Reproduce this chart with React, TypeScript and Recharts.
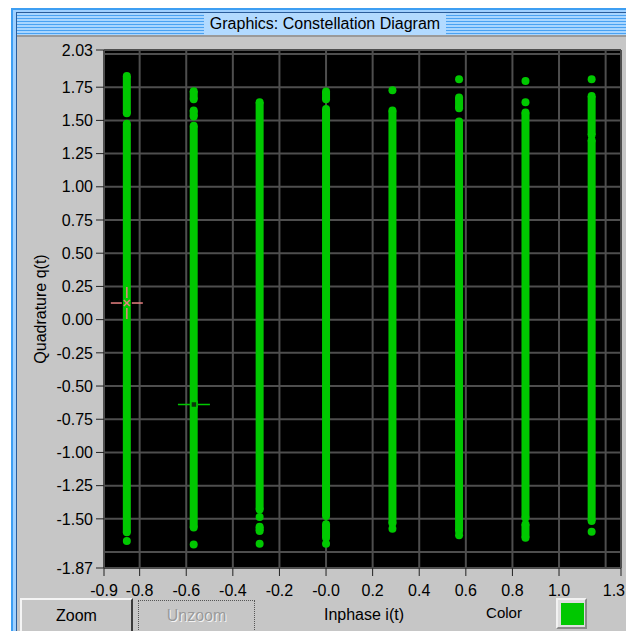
import React from "react";
import { ScatterChart, Scatter, XAxis, YAxis, CartesianGrid } from "recharts";

const GREEN = "#00c800";
const FONT = '"Liberation Sans", Arial, sans-serif';
const FACE = "#c6c6c6";

// inphase level of each of the 8 columns
const iLevels = [-0.855, -0.568, -0.285, 0.0, 0.285, 0.571, 0.856, 1.14];

// dense runs of samples in each column: [top q, bottom q]
const qRuns = [
  [[1.835, 1.554], [1.474, -1.6]],
  [[1.72, 1.66], [1.575, 1.53], [1.46, -1.566]],
  [[1.637, -1.429], [-1.559, -1.591]],
  [[1.717, 1.66], [1.586, -1.479], [-1.541, -1.642]],
  [[1.574, -1.534]],
  [[1.672, 1.591], [1.491, -1.591]],
  [[1.559, -1.491], [-1.541, -1.642]],
  [[1.684, 1.39], [1.35, -1.516]],
];

// single outlying samples in each column
const qDots = [
  [-1.667],
  [-1.694],
  [-1.486, -1.687],
  [-1.687],
  [1.727, -1.574],
  [1.81, -1.624],
  [1.797, 1.637],
  [1.81, -1.597],
];

const xTicks = [-0.953, -0.8, -0.6, -0.4, -0.2, 0, 0.2, 0.4, 0.6, 0.8, 1.0, 1.266];
const xTickLabels = ["-0.9", "-0.8", "-0.6", "-0.4", "-0.2", "-0.0", "0.2", "0.4", "0.6", "0.8", "1.0", "1.3"];
const yTicks = [-1.87, -1.5, -1.25, -1, -0.75, -0.5, -0.25, 0, 0.25, 0.5, 0.75, 1, 1.25, 1.5, 1.75, 2.03];
const yTickLabels = [
  "-1.87", "-1.50", "-1.25", "-1.00", "-0.75", "-0.50", "-0.25", "0.00",
  "0.25", "0.50", "0.75", "1.00", "1.25", "1.50", "1.75", "2.03",
];
const xGrid = [-0.953, -0.8, -0.6, -0.4, -0.2, 0, 0.2, 0.4, 0.6, 0.8, 1.0, 1.2, 1.266];
const yGrid = [-1.87, -1.75, -1.5, -1.25, -1, -0.75, -0.5, -0.25, 0, 0.25, 0.5, 0.75, 1, 1.25, 1.5, 1.75, 2.0, 2.03];

// cursor positions
const cursorRed = [{ x: -0.855, y: 0.125 }];
const cursorGreen = [{ x: -0.567, y: -0.639 }];

const dot = (p: any) => <circle cx={p.cx} cy={p.cy} r={4} fill={GREEN} />;

const redCross = (p: any) => {
  const { cx, cy } = p;
  const c = "#e88080";
  return (
    <g stroke={c} strokeWidth={1.5}>
      <line x1={cx - 16} y1={cy} x2={cx - 5} y2={cy} />
      <line x1={cx + 5} y1={cy} x2={cx + 16} y2={cy} />
      <line x1={cx} y1={cy - 16} x2={cx} y2={cy - 5} />
      <line x1={cx} y1={cy + 5} x2={cx} y2={cy + 16} />
      <line x1={cx - 3} y1={cy - 3} x2={cx + 3} y2={cy + 3} />
      <line x1={cx - 3} y1={cy + 3} x2={cx + 3} y2={cy - 3} />
    </g>
  );
};

const greenCross = (p: any) => {
  const { cx, cy } = p;
  return (
    <g stroke={GREEN} strokeWidth={1.5}>
      <line x1={cx - 16} y1={cy} x2={cx - 4} y2={cy} />
      <line x1={cx + 4} y1={cy} x2={cx + 16} y2={cy} />
      <line x1={cx} y1={cy - 16} x2={cx} y2={cy - 4} />
      <line x1={cx} y1={cy + 4} x2={cx} y2={cy + 16} />
      <rect x={cx - 3} y={cy - 3} width={6} height={6} fill="#0a3a0a" />
    </g>
  );
};

const XTick = (p: any) => {
  const { x, y, payload, index } = p;
  const last = index === xTicks.length - 1;
  return (
    <text x={last ? 625 : x} y={y} dy="0.71em" textAnchor={last ? "end" : "middle"}
      fontFamily={FONT} fontSize={16} fill="#000">
      {xTickLabels[xTicks.indexOf(payload.value)] ?? ""}
    </text>
  );
};

const AxisTitle = (props: any) => {
  const vb = props.viewBox || { x: 20, y: 50, width: 84, height: 518 };
  const x = vb.x + 20;
  const y = vb.y + vb.height / 2;
  return (
    <text x={x} y={y} transform={`rotate(-90 ${x} ${y})`} textAnchor="middle" dominantBaseline="central"
      fontFamily={FONT} fontSize={16} fill="#000">
      Quadrature q(t)
    </text>
  );
};

export default function App() {
  const runs = qRuns.flatMap((col, ci) =>
    col.map((r) => [{ x: iLevels[ci], y: r[0] }, { x: iLevels[ci], y: r[1] }])
  );
  const singles = qDots.flatMap((col, ci) => col.map((q) => ({ x: iLevels[ci], y: q })));

  const label = (txt: string, left: number, top: number, width: number, size = 16, extra: any = {}) => (
    <div style={{ position: "absolute", left, top, width, height: 18, lineHeight: "18px", textAlign: "center", fontSize: size, ...extra }}>
      {txt}
    </div>
  );

  return (
    <div style={{ position: "fixed", left: 0, top: 0, width: 626, height: 631, overflow: "hidden", background: "#fff", fontFamily: FONT }}>
      {/* window frame */}
      <div style={{ position: "absolute", left: 11, top: 8, right: -10, bottom: -10, background: "#3d9ef2" }} />
      <div style={{ position: "absolute", left: 13, top: 10, right: -10, bottom: -10, background: "#9fd0ff" }} />
      <div style={{ position: "absolute", left: 16, top: 12, right: -10, bottom: -10, background: "#2a5c9a" }} />
      {/* title bar */}
      <div
        style={{
          position: "absolute", left: 17, top: 13, right: 0, height: 22,
          background: "repeating-linear-gradient(to bottom, #a9d6ff 0px, #a9d6ff 2px, #4aa2f2 2px, #4aa2f2 3px)",
        }}
      />
      <div style={{ position: "absolute", left: 204, top: 13, width: 242, height: 22, background: "#b2daff", lineHeight: "22px", textAlign: "center", fontSize: 16, color: "#000" }}>
        Graphics: Constellation Diagram
      </div>
      {/* panel */}
      <div style={{ position: "absolute", left: 17, top: 35, right: 0, bottom: 0, background: "#9a9a9a" }} />
      <div style={{ position: "absolute", left: 17, top: 37, right: 0, bottom: 0, background: FACE }} />

      {/* buttons row */}
      <div style={{ position: "absolute", left: 20, top: 598, width: 109, height: 40, borderTop: "2px solid #f4f4f4", borderLeft: "2px solid #f4f4f4", borderRight: "2px solid #3a3a3a", background: FACE }} />
      {label("Zoom", 20, 607, 113)}
      <div style={{ position: "absolute", left: 138, top: 600, width: 115, height: 40, border: "1px dotted #555" }} />
      {label("Unzoom", 138, 607, 117, 16, { color: "#9a9a9a", textShadow: "1px 1px 0 #f4f4f4" })}
      {label("Inphase i(t)", 314, 606, 100)}
      {label("Color", 474, 604, 60, 15)}
      <div style={{ position: "absolute", left: 556, top: 598, width: 27, height: 27, borderTop: "2px solid #f2f2f2", borderLeft: "2px solid #f2f2f2", borderRight: "2px solid #8a8a8a", borderBottom: "2px solid #8a8a8a", background: "#dedede" }} />
      <div style={{ position: "absolute", left: 561, top: 603, width: 23, height: 22, background: GREEN }} />

      <div style={{ position: "absolute", left: 0, top: 0 }}>
        <ScatterChart width={626} height={631} margin={{ top: 50, right: 5, bottom: 33, left: 20 }}>
          <CartesianGrid
            fill="#000"
            stroke="#4e4e4e"
            strokeWidth={2}
            horizontalValues={yGrid}
            verticalValues={xGrid}
          />
          <XAxis
            type="number"
            dataKey="x"
            domain={[-0.953, 1.266]}
            allowDataOverflow
            ticks={xTicks}
            interval={0}
            height={30}
            axisLine={false}
            tickSize={8}
            tickMargin={9}
            tickLine={{ stroke: "#222" }}
            tick={<XTick />}
          />
          <YAxis
            type="number"
            dataKey="y"
            domain={[-1.87, 2.03]}
            allowDataOverflow
            ticks={yTicks}
            interval={0}
            width={84}
            axisLine={false}
            tickSize={8}
            tickMargin={3}
            tickLine={{ stroke: "#222" }}
            tick={{ fill: "#000", fontSize: 16, fontFamily: FONT }}
            tickFormatter={(v: number) => yTickLabels[yTicks.indexOf(v)] ?? ""}
            label={(p: any) => <AxisTitle {...p} />}
          />
          {runs.map((seg, i) => (
            <Scatter
              key={`run-${i}`}
              data={seg}
              fill={GREEN}
              line={{ stroke: GREEN, strokeWidth: 8 }}
              lineType="joint"
              shape={dot}
              isAnimationActive={false}
            />
          ))}
          <Scatter data={singles} fill={GREEN} shape={dot} isAnimationActive={false} />
          <Scatter data={cursorGreen} shape={greenCross} isAnimationActive={false} />
          <Scatter data={cursorRed} shape={redCross} isAnimationActive={false} />
        </ScatterChart>
      </div>
    </div>
  );
}
